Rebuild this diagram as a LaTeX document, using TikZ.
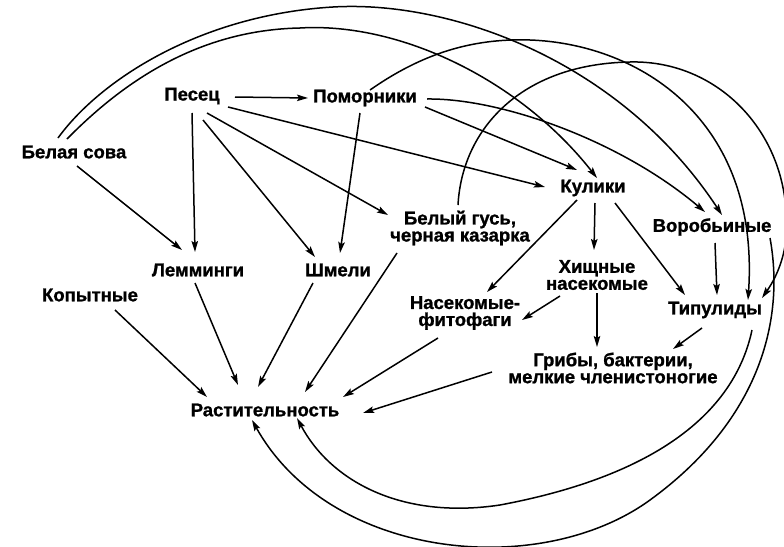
\documentclass[tikz,border=0pt]{standalone}
\usepackage{fontspec}
\newfontfamily\labfont{Liberation Sans}[BoldFeatures={FakeBold=1.2}]
\usetikzlibrary{arrows.meta}

\tikzset{
  lbl/.style={font=\labfont\bfseries\fontsize{18.5}{17}\selectfont, align=center, inner sep=0pt},
  arr/.style={line width=1.5pt, -{Stealth[length=11pt,width=6.5pt,inset=2pt]}},
}

\begin{document}
\begin{tikzpicture}[x=1pt, y=-1pt]
  % page area
  \path[fill=white, use as bounding box] (0,0) rectangle (784,546);

  % species and groups
  \node[lbl] (sova)   at (74,152)  {Белая сова};
  \node[lbl] (pesec)  at (192,96)  {Песец};
  \node[lbl] (pomor)  at (365,98)  {Поморники};
  \node[lbl] (kuliki) at (593,188) {Кулики};
  \node[lbl] (gus)    at (460,228) {Белый гусь,\\черная казарка};
  \node[lbl] (vorob)  at (712,227) {Воробьиные};
  \node[lbl] (lemm)   at (198,270) {Лемминги};
  \node[lbl] (shmeli) at (338,270) {Шмели};
  \node[lbl] (kopyt)  at (90,295)  {Копытные};
  \node[lbl] (hisch)  at (597,275) {Хищные\\насекомые};
  \node[lbl] (fito)   at (465,313) {Насекомые-\\фитофаги};
  \node[lbl] (tipul)  at (715,310) {Типулиды};
  \node[lbl] (griby)  at (613,368) {Грибы, бактерии,\\мелкие членистоногие};
  \node[lbl] (rast)   at (265,410) {Растительность};

  % straight links
  \draw[arr] ([shift={(43,1)}]pesec.center)   -- ([shift={(-57,0)}]pomor.center);
  \draw[arr] ([shift={(0,17)}]pesec.center)   -- ([shift={(-3,-18)}]lemm.center);
  \draw[arr] ([shift={(3,14)}]sova.center)    -- ([shift={(-16,-20)}]lemm.center);
  \draw[arr] ([shift={(11,24)}]pesec.center)  -- ([shift={(-23,-13)}]shmeli.center);
  \draw[arr] ([shift={(-5,15)}]pomor.center)  -- ([shift={(2,-17)}]shmeli.center);
  \draw[arr] ([shift={(15,17)}]pesec.center)  -- ([shift={(-72,-13)}]gus.center);
  \draw[arr] ([shift={(36,11)}]pesec.center)  -- ([shift={(-48,-1)}]kuliki.center);
  \draw[arr] ([shift={(60,9)}]pomor.center)   -- ([shift={(-16,-18)}]kuliki.center);
  \draw[arr] ([shift={(-16,12)}]kuliki.center) -- ([shift={(22,-21)}]fito.center);
  \draw[arr] ([shift={(2,15)}]kuliki.center)  -- ([shift={(-3,-25)}]hisch.center);
  \draw[arr] ([shift={(22,15)}]kuliki.center) -- ([shift={(-30,-15)}]tipul.center);
  \draw[arr] ([shift={(3,16)}]vorob.center)   -- ([shift={(2,-15)}]tipul.center);
  \draw[arr] ([shift={(-37,21)}]hisch.center) -- ([shift={(57,7)}]fito.center);
  \draw[arr] ([shift={(0,18)}]hisch.center)   -- ([shift={(-16,-21)}]griby.center);
  \draw[arr] ([shift={(-13,18)}]tipul.center) -- ([shift={(60,-19)}]griby.center);
  \draw[arr] ([shift={(-3,13)}]lemm.center)   -- ([shift={(-27,-25)}]rast.center);
  \draw[arr] ([shift={(25,15)}]kopyt.center)  -- ([shift={(-58,-13)}]rast.center);
  \draw[arr] ([shift={(-25,13)}]shmeli.center) -- ([shift={(-7,-23)}]rast.center);
  \draw[arr] ([shift={(-63,25)}]gus.center)   -- ([shift={(40,-18)}]rast.center);
  \draw[arr] ([shift={(-27,25)}]fito.center)  -- ([shift={(78,-13)}]rast.center);
  \draw[arr] ([shift={(-121,4)}]griby.center) -- ([shift={(98,3)}]rast.center);

  % curved links
  \draw[arr] ([shift={(62,1)}]pomor.center)
      .. controls (500,98) and (620,140) .. ([shift={(-7,-15)}]vorob.center);
  \draw[arr] ([shift={(-7,-13)}]sova.center)
      .. controls (125,80) and (200,30) .. (300,28)
      .. controls (400,22) and (520,80) .. ([shift={(4,-10)}]kuliki.center);
  \draw[arr] ([shift={(-16,-14)}]sova.center)
      .. controls (100,80) and (200,15) .. (333,7)
      .. controls (450,0) and (620,60) .. ([shift={(10,-12)}]vorob.center);
  \draw[arr] ([shift={(5,-8)}]pomor.center)
      .. controls (420,55) and (470,38) .. (530,40)
      .. controls (640,44) and (760,120) .. ([shift={(33,-10)}]tipul.center);
  \draw[arr] ([shift={(-2,-23)}]gus.center)
      .. controls (462,130) and (520,64) .. (630,62)
      .. controls (710,60) and (775,120) .. (785,200)
      .. controls (792,245) and (778,275) .. ([shift={(47,-12)}]tipul.center);
  \draw[arr] ([shift={(58,11)}]vorob.center)
      .. controls (785,320) and (760,420) .. (650,500)
      .. controls (540,580) and (330,560) .. ([shift={(-13,10)}]rast.center);
  \draw[arr] ([shift={(37,20)}]tipul.center)
      .. controls (735,410) and (660,475) .. (500,505)
      .. controls (400,520) and (330,480) .. ([shift={(32,8)}]rast.center);
\end{tikzpicture}
\end{document}
